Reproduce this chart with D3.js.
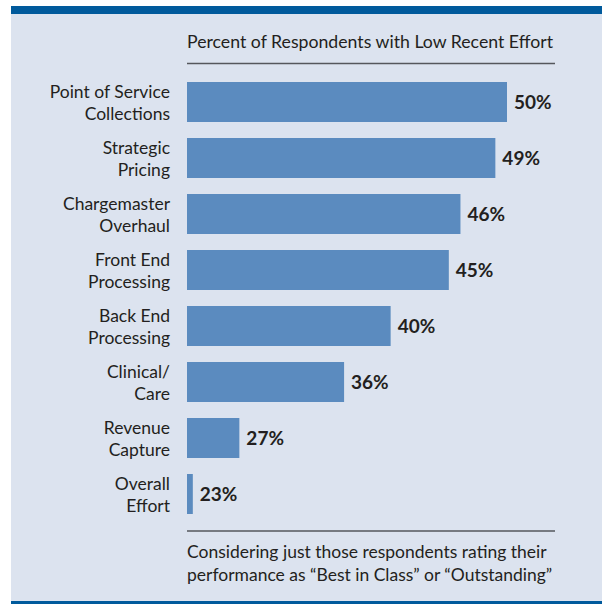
<!DOCTYPE html>
<html>
<head>
<meta charset="utf-8">
<script src="https://cdn.jsdelivr.net/npm/d3@7"></script>
<style>
  html, body { margin: 0; padding: 0; background: #ffffff; }
  svg { display: block; }
</style>
</head>
<body>
<svg id="chart" width="602" height="604"></svg>
<script>
// Effort categories (two-line labels) and their percentages
const categories = [
  ["Point of Service", "Collections"],
  ["Strategic", "Pricing"],
  ["Chargemaster", "Overhaul"],
  ["Front End", "Processing"],
  ["Back End", "Processing"],
  ["Clinical/", "Care"],
  ["Revenue", "Capture"],
  ["Overall", "Effort"]
];
const values = [50, 49, 46, 45, 40, 36, 27, 23];

const titleText = "Percent of Respondents with Low Recent Effort";
const noteLines = [
  "Considering just those respondents rating their",
  "performance as \u201cBest in Class\u201d or \u201cOutstanding\u201d"
];

const W = 602, H = 604;
const svg = d3.select("#chart");
const font = "Lato, 'Noto Sans', sans-serif";
const ink = "#231f20";

// panel background and blue rules top and bottom
svg.append("rect").attr("x", 11).attr("y", 6).attr("width", W - 11).attr("height", H - 6)
  .attr("fill", "#dce3ef");
svg.append("rect").attr("x", 11).attr("y", 6).attr("width", W - 11).attr("height", 8)
  .attr("fill", "#005a9c");
svg.append("rect").attr("x", 11).attr("y", 601).attr("width", W - 11).attr("height", 3)
  .attr("fill", "#005a9c");

const plotLeft = 187, plotRight = 555;

// title and its underline
svg.append("text").attr("x", plotLeft).attr("y", 48)
  .attr("font-family", font).attr("font-size", 17.5).attr("fill", ink)
  .attr("textLength", 366).attr("lengthAdjust", "spacingAndGlyphs")
  .text(titleText);
svg.append("line").attr("x1", plotLeft).attr("x2", plotRight).attr("y1", 63.5).attr("y2", 63.5)
  .attr("stroke", "#55575c").attr("stroke-width", 1.6);

// scales: 40px bars on a 56px step
const y = d3.scaleBand().domain(d3.range(values.length)).range([82, 514])
  .paddingInner(16 / 56).paddingOuter(0).align(0);
const x = d3.scaleLinear().domain([22.5, 50]).range([0, 320]);

const g = svg.append("g");

g.selectAll("rect.bar").data(values).join("rect")
  .attr("class", "bar")
  .attr("x", plotLeft)
  .attr("y", (d, i) => y(i))
  .attr("width", d => x(d))
  .attr("height", y.bandwidth())
  .attr("fill", "#5b8bbf");

// value labels
g.selectAll("text.val").data(values).join("text")
  .attr("class", "val")
  .attr("x", d => plotLeft + x(d) + 7)
  .attr("y", (d, i) => y(i) + y.bandwidth() / 2 + 6.5)
  .attr("font-family", font).attr("font-weight", 700).attr("font-size", 19)
  .attr("fill", ink)
  .text(d => d + "%");

// category labels
const lab = g.selectAll("text.cat").data(categories).join("text")
  .attr("class", "cat")
  .attr("text-anchor", "end")
  .attr("font-family", font).attr("font-size", 17.5).attr("fill", ink);
lab.each(function (d, i) {
  const t = d3.select(this);
  const cy = y(i) + y.bandwidth() / 2;
  t.append("tspan").attr("x", 170).attr("y", cy - 4).text(d[0]);
  t.append("tspan").attr("x", 170).attr("y", cy + 18).text(d[1]);
});

// lower rule and note
svg.append("line").attr("x1", plotLeft).attr("x2", plotRight).attr("y1", 531).attr("y2", 531)
  .attr("stroke", "#55575c").attr("stroke-width", 1.6);
svg.selectAll("text.note").data(noteLines).join("text")
  .attr("class", "note")
  .attr("x", plotLeft).attr("y", (d, i) => 558 + i * 23)
  .attr("font-family", font).attr("font-size", 17.5).attr("fill", ink)
  .text(d => d);
</script>
</body>
</html>
